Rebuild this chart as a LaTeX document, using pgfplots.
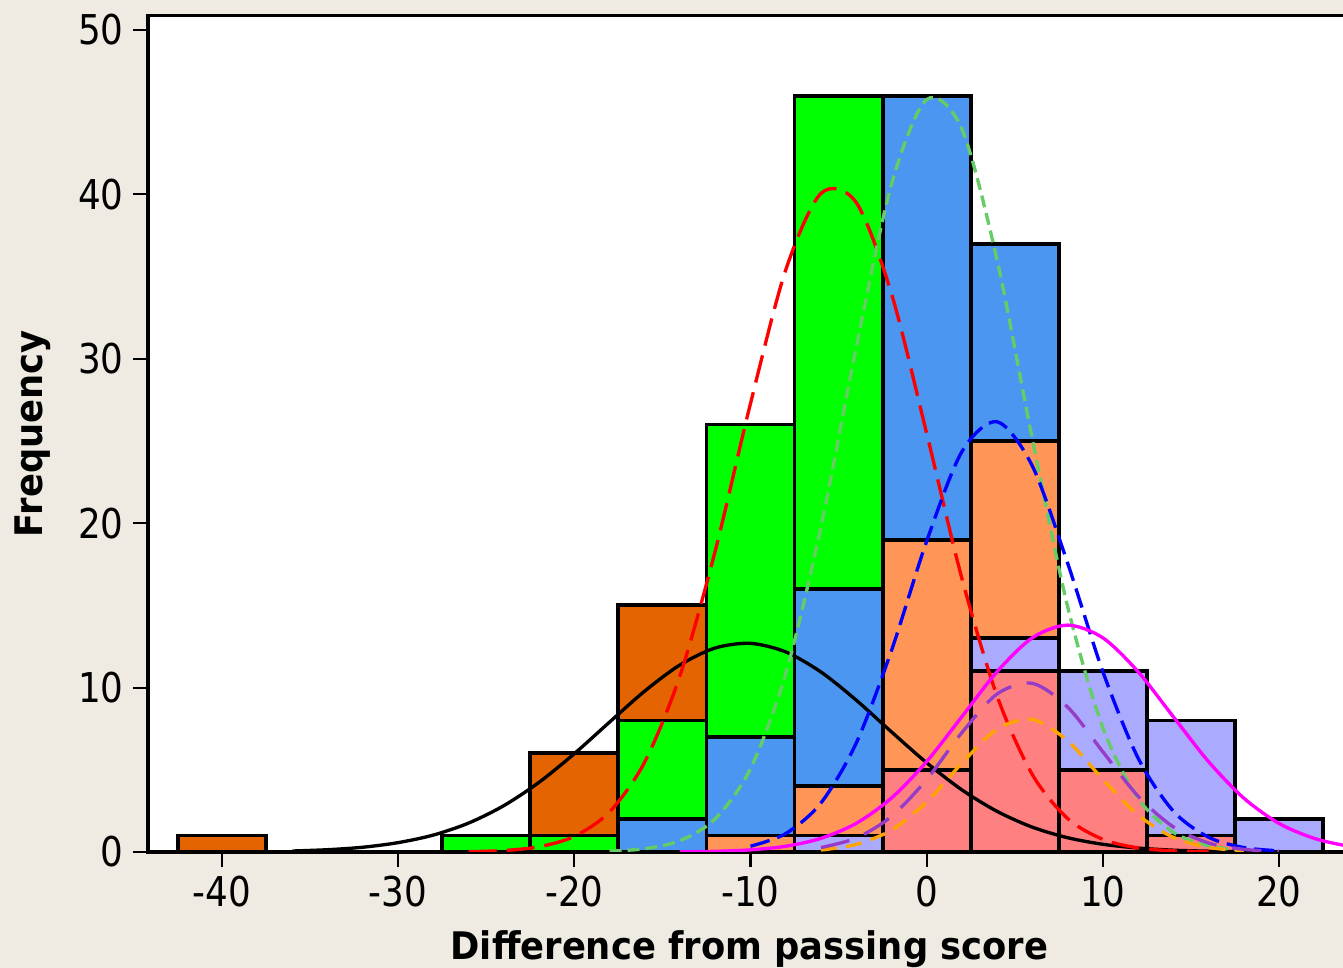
\documentclass[border=0pt]{standalone}
\usepackage{fontspec}
\setmainfont{DejaVu Sans}
\newfontfamily\tickfont[FakeStretch=0.87]{DejaVu Sans}
\newfontfamily\labfont[FakeStretch=0.93]{DejaVu Sans}
\usepackage{pgfplots}
\pgfplotsset{compat=1.18}
\definecolor{bgc}{RGB}{239,235,226}
\definecolor{csalmon}{RGB}{255,128,128}
\definecolor{clav}{RGB}{170,170,255}
\definecolor{clor}{RGB}{255,150,88}
\definecolor{cblue}{RGB}{74,150,240}
\definecolor{cgreen}{RGB}{0,255,0}
\definecolor{cdor}{RGB}{227,100,0}
\definecolor{lgreen}{RGB}{102,204,102}
\definecolor{cpurple}{RGB}{150,60,200}
\definecolor{corange}{RGB}{255,165,0}
\definecolor{cmag}{RGB}{255,0,255}
\definecolor{cred}{RGB}{255,0,0}
\definecolor{cbl}{RGB}{0,0,255}
\begin{document}
\begin{tikzpicture}
\fill[bgc] (-55.5pt,-43.5pt) rectangle (448.125pt,319.5pt);
\begin{axis}[
 at={(0,0)}, anchor=south west,
 x=6.606pt, y=6.165pt,
 xmin=-44.2, xmax=25, ymin=0, ymax=50.9,
 axis background/.style={fill=white},
 axis line style={line width=1.2pt},
 tick align=outside, tick pos=left, major tick length=5.6pt,
 tick style={line width=0.8pt, black},
 xtick={-40,-30,-20,-10,0,10,20}, xticklabels={-40,-30,-20,-10,0,10,20},
 ytick={0,10,20,30,40,50}, yticklabels={0,10,20,30,40,50},
 ticklabel style={font=\tickfont\fontsize{15.4pt}{18pt}\selectfont},
 xlabel={Difference from passing score}, ylabel={Frequency},
 label style={font=\labfont\bfseries\fontsize{14.25pt}{17pt}\selectfont},
 xlabel style={at={(axis description cs:0.4934,0)}, anchor=base, yshift=-40.5pt},
 ylabel style={at={(axis description cs:-0.0943,0.5)}, anchor=center},
 clip=true,
]
% stacked histogram: each series drawn from 0 up to its cumulative top
\addplot[ybar, bar width=5, bar shift=0pt, fill=cdor, draw=black, line width=1.45pt]
 coordinates {(-40,1) (-20,6) (-15,15)};
\addplot[ybar, bar width=5, bar shift=0pt, fill=cgreen, draw=black, line width=1.45pt]
 coordinates {(-25,1) (-20,1) (-15,8) (-10,26) (-5,46)};
\addplot[ybar, bar width=5, bar shift=0pt, fill=cblue, draw=black, line width=1.45pt]
 coordinates {(-15,2) (-10,7) (-5,16) (0,46) (5,37)};
\addplot[ybar, bar width=5, bar shift=0pt, fill=clor, draw=black, line width=1.45pt]
 coordinates {(-10,1) (-5,4) (0,19) (5,25)};
\addplot[ybar, bar width=5, bar shift=0pt, fill=clav, draw=black, line width=1.45pt]
 coordinates {(-5,1) (5,13) (10,11) (15,8) (20,2)};
\addplot[ybar, bar width=5, bar shift=0pt, fill=csalmon, draw=black, line width=1.45pt]
 coordinates {(0,5) (5,11) (10,5) (15,1)};
% fitted curves
\addplot[black, line width=1.25pt, smooth] coordinates {
(-36,0.06) (-34,0.14) (-32,0.29) (-30,0.57) (-28,1.03) (-26,1.76) (-24,2.82) (-22,4.24)
(-20,5.98) (-18,7.90) (-16,9.79) (-14,11.38) (-12,12.41) (-10,12.69) (-8,12.17) (-6,10.95)
(-4,9.24) (-2,7.31) (0,5.43) (2,3.78) (4,2.47) (6,1.51) (8,0.87) (10,0.47) (12,0.24)
(14,0.11) (16,0.05) (18,0.02)};
\addplot[cred, line width=1.25pt, smooth, dash pattern=on 10.5pt off 3.75pt] coordinates {
(-26,0.02) (-24,0.09) (-22,0.32) (-20,0.95) (-18,2.44) (-16,5.48) (-14,10.73) (-12,18.32)
(-10,27.28) (-8,35.4) (-6,40.06) (-4,39.51) (-2,33.98) (0,25.47) (2,16.65) (4,9.48)
(6,4.71) (8,2.04) (10,0.77) (12,0.25) (14,0.07) (16,0.02)};
\addplot[lgreen, line width=1.25pt, smooth, dash pattern=on 4.5pt off 2.25pt] coordinates {
(-18,0.05) (-16,0.20) (-14,0.69) (-12,2.02) (-10,5.07) (-8,10.84) (-6,19.76) (-4,30.68)
(-2,40.6) (0,45.77) (2,43.98) (4,36.0) (6,25.12) (8,14.94) (10,7.57) (12,3.27)
(14,1.2) (16,0.38) (18,0.1)};
\addplot[cbl, line width=1.25pt, smooth, dash pattern=on 7.5pt off 3pt] coordinates {
(-10,0.35) (-8,1.12) (-6,2.98) (-4,6.62) (-2,12.24) (0,18.9) (2,24.35) (4,26.17)
(6,23.48) (8,17.58) (10,10.98) (12,5.72) (14,2.49) (16,0.90) (18,0.27) (20,0.07)};
\addplot[corange, line width=1.25pt, smooth, dash pattern=on 6pt off 3.5pt] coordinates {
(-6,0.12) (-4,0.46) (-2,1.33) (0,3.04) (2,5.40) (4,7.48) (6,8.06) (8,6.77) (10,4.42)
(12,2.25) (14,0.89) (16,0.28) (18,0.07)};
\addplot[cpurple, line width=1.25pt, smooth, dash pattern=on 11pt off 6pt] coordinates {
(-6,0.27) (-4,0.85) (-2,2.16) (0,4.41) (2,7.26) (4,9.61) (6,10.26) (8,8.82) (10,6.10)
(12,3.40) (14,1.53) (16,0.55) (18,0.16) (20,0.04)};
\addplot[cmag, line width=1.25pt, smooth] coordinates {
(-14,0.01) (-12,0.04) (-10,0.13) (-8,0.35) (-6,0.83) (-4,1.74) (-2,3.28) (0,5.50)
(2,8.23) (4,10.97) (6,13.03) (8,13.8) (10,13.03) (12,10.97) (14,8.23) (16,5.50)
(18,3.28) (20,1.74) (22,0.83) (24,0.35) (26,0.13)};
\end{axis}
\pgfresetboundingbox
\path[use as bounding box] (-55.5pt,-43.5pt) rectangle (448.125pt,319.5pt);
\end{tikzpicture}
\end{document}
